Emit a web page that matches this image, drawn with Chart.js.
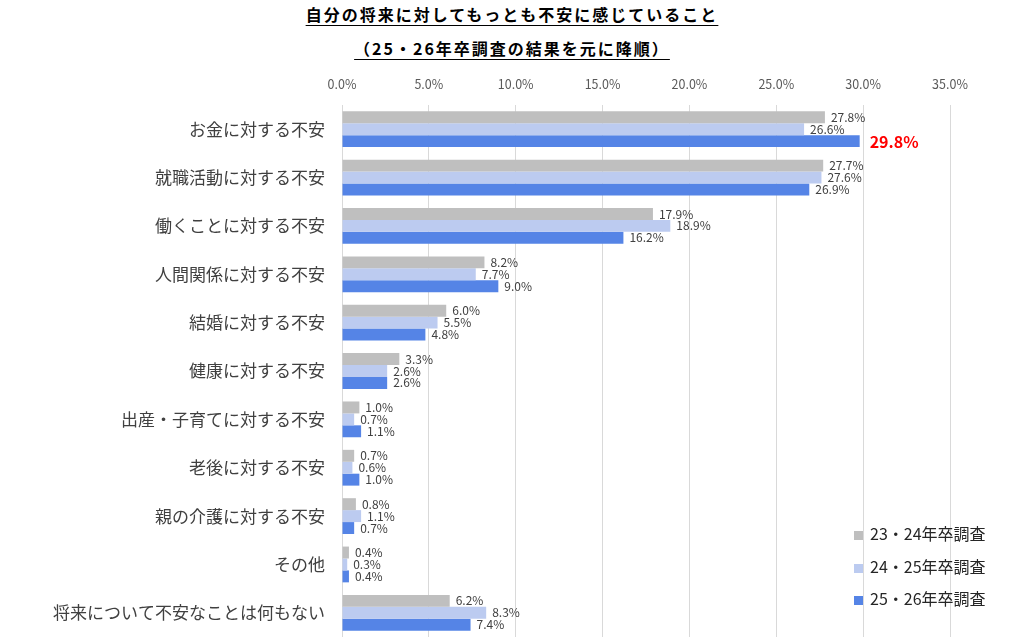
<!DOCTYPE html>
<html lang="ja">
<head>
    <meta charset="UTF-8">
    <title>自分の将来に対してもっとも不安に感じていること</title>
    <script src="https://cdn.jsdelivr.net/npm/chart.js"></script>
    <style>
        html, body { margin: 0; padding: 0; background: #fff; }
        body { width: 1024px; height: 641px; position: relative; overflow: hidden;
               font-family: "Noto Sans CJK JP", sans-serif; }
        .title { position: absolute; left: 0; width: 1024px; text-align: center;
                 font-weight: bold; font-size: 16px; letter-spacing: 2px; color: #000; }
        .title span { text-decoration: underline; text-underline-offset: 4px; }
        #anxietyChart { position: absolute; left: 0; top: 0; }
        .legend { position: absolute; left: 854px; top: 522px; font-size: 16px; color: #262626; }
        .legend div { height: 32.5px; line-height: 22px; white-space: nowrap; }
        .legend i { display: inline-block; width: 9px; height: 9px; margin-right: 7px; vertical-align: 0px; }
    </style>
</head>
<body>

    <div class="title" style="top: 2px;"><span>自分の将来に対してもっとも不安に感じていること</span></div>
    <div class="title" style="top: 36px;"><span>（25・26年卒調査の結果を元に降順）</span></div>

    <canvas id="anxietyChart" width="1024" height="641"></canvas>

    <!-- Legend -->
    <div class="legend" id="legend"></div>

    <script>
        // data
        const categories = ['お金に対する不安', '就職活動に対する不安', '働くことに対する不安', '人間関係に対する不安',
            '結婚に対する不安', '健康に対する不安', '出産・子育てに対する不安', '老後に対する不安',
            '親の介護に対する不安', 'その他', '将来について不安なことは何もない'];
        const seriesNames = ['23・24年卒調査', '24・25年卒調査', '25・26年卒調査'];
        const survey2324 = [27.8, 27.7, 17.9, 8.2, 6.0, 3.3, 1.0, 0.7, 0.8, 0.4, 6.2];
        const survey2425 = [26.6, 27.6, 18.9, 7.7, 5.5, 2.6, 0.7, 0.6, 1.1, 0.3, 8.3];
        const survey2526 = [29.8, 26.9, 16.2, 9.0, 4.8, 2.6, 1.1, 1.0, 0.7, 0.4, 7.4];
        const xTicks = [0, 5, 10, 15, 20, 25, 30, 35];

        const colors = ['#bfbfbf', '#bccbf0', '#5584e6'];
        const font = '"Noto Sans CJK JP", sans-serif';

        // legend in html
        document.getElementById('legend').innerHTML = seriesNames.map((n, i) =>
            '<div><i style="background:' + colors[i] + '"></i>' + n + '</div>').join('');

        // value labels after each bar
        const valueLabels = {
            id: 'valueLabels',
            afterDatasetsDraw(chart) {
                const ctx = chart.ctx;
                ctx.save();
                ctx.textBaseline = 'middle';
                chart.data.datasets.forEach((ds, di) => {
                    chart.getDatasetMeta(di).data.forEach((bar, i) => {
                        const v = ds.data[i];
                        if (di === 2 && i === 0) {
                            ctx.font = 'bold 16px ' + font;
                            ctx.fillStyle = '#ff0000';
                            ctx.fillText(v.toFixed(1) + '%', bar.x + 10, bar.y + 1);
                        } else {
                            ctx.font = '12px ' + font;
                            ctx.fillStyle = '#404040';
                            ctx.fillText(v.toFixed(1) + '%', bar.x + 6, bar.y);
                        }
                    });
                });
                ctx.restore();
            }
        };

        const ctx = document.getElementById('anxietyChart').getContext('2d');
        const anxietyChart = new Chart(ctx, {
            type: 'bar',
            data: {
                labels: categories,
                datasets: [
                    { label: seriesNames[0], data: survey2324, backgroundColor: colors[0] },
                    { label: seriesNames[1], data: survey2425, backgroundColor: colors[1] },
                    { label: seriesNames[2], data: survey2526, backgroundColor: colors[2] }
                ]
            },
            options: {
                indexAxis: 'y',
                responsive: false,
                animation: false,
                datasets: { bar: { categoryPercentage: 0.74, barPercentage: 1.0 } },
                layout: { padding: { top: 0, right: 74, bottom: 4, left: 0 } },
                plugins: {
                    legend: { display: false },
                    tooltip: { enabled: false }
                },
                scales: {
                    x: {
                        position: 'top',
                        min: 0,
                        max: 35,
                        afterBuildTicks: (s) => { s.ticks = xTicks.map(v => ({ value: v })); },
                        afterFit: (s) => { s.height = 105; },
                        grid: { color: '#d9d9d9', drawTicks: false },
                        border: { display: false },
                        ticks: {
                            padding: 13,
                            color: '#595959',
                            font: { family: font, size: 12.5 },
                            callback: (v) => v.toFixed(1) + '%'
                        }
                    },
                    y: {
                        // fixed width, and no extra room for the first/last label
                        afterFit: (s) => { s.width = 342; s.paddingTop = 0; s.paddingBottom = 0; },
                        grid: { display: false, drawTicks: false },
                        border: { display: false },
                        ticks: {
                            padding: 17,
                            color: '#404040',
                            font: { family: font, size: 17 }
                        }
                    }
                }
            },
            plugins: [valueLabels]
        });
    </script>

</body>
</html>
